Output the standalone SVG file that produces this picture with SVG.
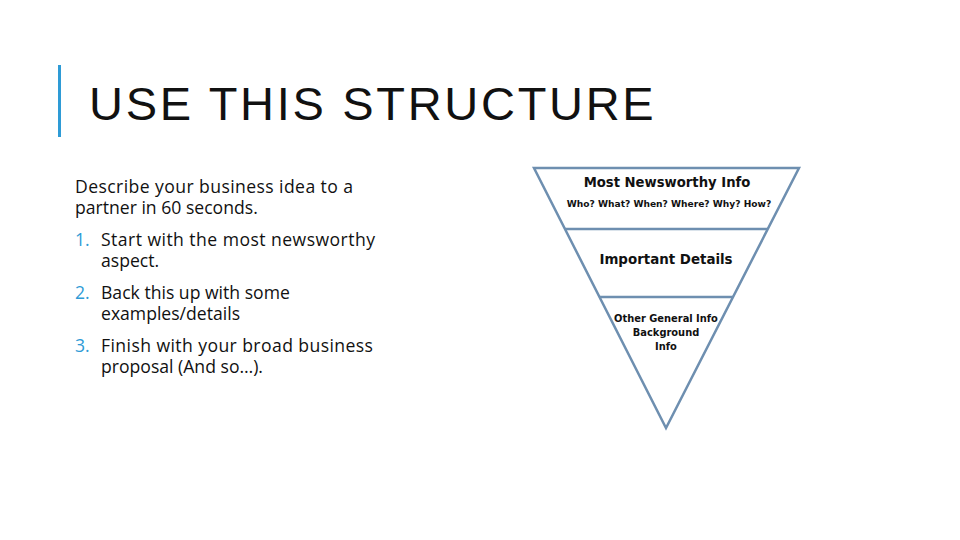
<svg xmlns="http://www.w3.org/2000/svg" width="960" height="540" viewBox="0 0 960 540">
<style>
.t{font-family:"Open Sans","Liberation Sans",sans-serif;font-size:17.6px;fill:#111}
.n{fill:#2e9bd6}
.b{font-family:"DejaVu Sans",sans-serif;font-weight:bold;fill:#111;text-anchor:middle}
</style>
<rect width="960" height="540" fill="#fff"/>
<g id="title">
<rect x="58" y="65" width="3" height="72" fill="#2e9bd6"/>
<text x="89" y="120" font-family="'Liberation Sans',sans-serif" font-size="47" fill="#111" letter-spacing="2.7">USE THIS STRUCTURE</text>
</g>
<g id="body" class="t">
<text x="75" y="193" textLength="278">Describe your business idea to a</text>
<text x="75" y="214">partner in 60 seconds.</text>
<text x="75" y="246" class="t n">1.</text><text x="101" y="246" textLength="274">Start with the most newsworthy</text>
<text x="101" y="267">aspect.</text>
<text x="75" y="299" class="t n">2.</text><text x="101" y="299">Back this up with some</text>
<text x="101" y="320">examples/details</text>
<text x="75" y="352" class="t n">3.</text><text x="101" y="352" textLength="272">Finish with your broad business</text>
<text x="101" y="373">proposal (And so…).</text>
</g>
<g id="pyramid" fill="none" stroke="#6e8fb0" stroke-width="2.5">
<polygon points="534,168 799,168 666,428" fill="#fff"/>
<line x1="565" y1="229" x2="768" y2="229"/>
<line x1="600" y1="297" x2="733" y2="297"/>
</g>
<g id="top"><text class="b" x="667" y="187" font-size="13.2">Most Newsworthy Info</text>
<text class="b" x="669" y="207" font-size="9.1">Who? What? When? Where? Why? How?</text></g>
<g id="mid"><text class="b" x="666" y="264" font-size="13.4">Important Details</text></g>
<g id="bottom"><text class="b" x="666" y="322" font-size="9.9">Other General Info</text>
<text class="b" x="666" y="336" font-size="9.9">Background</text>
<text class="b" x="666" y="350" font-size="9.9">Info</text></g>
</svg>
